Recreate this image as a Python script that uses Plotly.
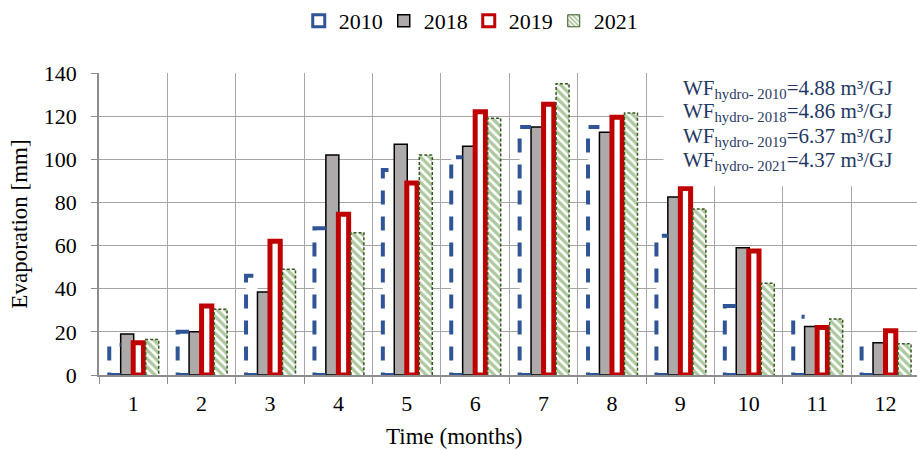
import plotly.graph_objects as go

months = list(range(1, 13))
month_labels = [str(m) for m in months]
years = ["2010", "2018", "2019", "2021"]
v2010 = [14, 20, 46, 68, 95, 101, 115, 115, 64.5, 32, 27, 13.5]
v2018 = [19, 20, 38.5, 102, 107, 106, 115, 112.5, 82.5, 59, 22.5, 15]
v2019 = [15, 32, 62, 74.5, 89, 122, 125.5, 119.5, 86.5, 57.5, 22, 20.5]
v2021 = [16.5, 30.5, 49, 66, 102, 119, 135, 121.5, 77, 42.5, 26, 14.5]
wf_values = ["4.88", "4.86", "6.37", "4.37"]

FONT = "Liberation Serif"
BLUE = "#2F5597"
RED = "#C00000"
GRAY = "#AEAAAA"
GREEN_LINE = "#385723"
GREEN_HATCH = "#5A923C"
NAVY = "#1F3864"

# bar slot geometry (fraction of category)
b0, b1 = -0.35, -0.183
g_off, g_w = -0.183, 0.19
r_off, r_w = 0.0, 0.15
gr0, gr1 = 0.183, 0.373

fig = go.Figure()

# 2010: white body + dashed outline
fig.add_trace(go.Bar(x=months, y=v2010, offset=b0, width=b1 - b0, name=years[0],
                     marker=dict(color="white", line=dict(width=0)),
                     showlegend=False, hoverinfo="skip"))
# 2018
fig.add_trace(go.Bar(x=months, y=v2018, offset=g_off, width=g_w, name=years[1],
                     marker=dict(color=GRAY, line=dict(color="black", width=1.5)),
                     showlegend=False))
# 2019
fig.add_trace(go.Bar(x=months, y=v2019, offset=r_off, width=r_w, name=years[2],
                     marker=dict(color="white", line=dict(color=RED, width=5)),
                     showlegend=False))
# 2021 hatched
fig.add_trace(go.Bar(x=months, y=v2021, offset=gr0, width=gr1 - gr0, name=years[3],
                     marker=dict(color="white", line=dict(width=0),
                                 pattern=dict(shape="\\", fgcolor=GREEN_HATCH,
                                              bgcolor="white", size=6, solidity=0.55)),
                     showlegend=False))

# dashed outlines built from the data
bx, by = [], []
for m, v in zip(months, v2010):
    bx += [m + b1, m + b0, m + b0, m + b1, None]
    by += [0, 0, v, v, None]
fig.add_trace(go.Scatter(x=bx, y=by, mode="lines",
                         line=dict(color=BLUE, width=4, dash="14px,12px"),
                         showlegend=False, hoverinfo="skip"))
gx, gy = [], []
for m, v in zip(months, v2021):
    gx += [m + gr0, m + gr0, m + gr1, m + gr1, None]
    gy += [0, v, v, 0, None]
fig.add_trace(go.Scatter(x=gx, y=gy, mode="lines",
                         line=dict(color=GREEN_LINE, width=1.5, dash="3px,2px"),
                         showlegend=False, hoverinfo="skip"))

# legend proxies (no visible marks)
fig.add_trace(go.Bar(x=[None], y=[None], name=years[0],
                     marker=dict(color="white", line=dict(color=BLUE, width=3))))
fig.add_trace(go.Bar(x=[None], y=[None], name=years[1],
                     marker=dict(color=GRAY, line=dict(color="black", width=1.5))))
fig.add_trace(go.Bar(x=[None], y=[None], name=years[2],
                     marker=dict(color="white", line=dict(color=RED, width=3))))
fig.add_trace(go.Bar(x=[None], y=[None], name=years[3],
                     marker=dict(color="white", line=dict(color=GREEN_LINE, width=1),
                                 pattern=dict(shape="\\", fgcolor="#548235",
                                              bgcolor="white", size=4, solidity=0.5))))

boundaries = [m - 0.5 for m in months] + [months[-1] + 0.5]

fig.update_layout(
    width=917, height=450,
    margin=dict(l=99, r=0, t=68, b=75),
    paper_bgcolor="white", plot_bgcolor="white",
    barmode="overlay",
    font=dict(family=FONT, size=22, color="black"),
    legend=dict(orientation="h", x=0.452, xanchor="center", y=1.173, yanchor="middle",
                yref="paper", xref="paper", font=dict(family=FONT, size=22, color="black"),
                entrywidth=40, entrywidthmode="pixels", itemclick=False),
    xaxis=dict(range=[0.5, 12.46], tickvals=months, ticktext=month_labels,
               tickfont=dict(family=FONT, size=22, color="black"),
               showgrid=False, ticks="", showline=True, linecolor="#8C8C8C",
               linewidth=1.5, zeroline=False, ticklabelstandoff=8, automargin=False,
               minor=dict(tickvals=boundaries, showgrid=True, gridcolor="#A6A6A6",
                          gridwidth=1, ticks="outside", ticklen=7, tickcolor="#8C8C8C")),
    yaxis=dict(range=[0, 140], dtick=20, showgrid=True, gridcolor="#A6A6A6",
               tickfont=dict(family=FONT, size=22, color="black"),
               gridwidth=1, showline=True, linecolor="#8C8C8C", linewidth=1.5,
               ticks="outside", ticklen=6, tickcolor="#8C8C8C", zeroline=False,
               ticklabelstandoff=10, automargin=False,
               title=dict(text="Evaporation [mm]", standoff=10,
                          font=dict(family=FONT, size=23, color="black"))),
)

# x-axis title (placed as in the reference, left of the domain centre)
fig.add_annotation(xref="paper", yref="paper", x=0.434, y=-0.202, xanchor="center",
                   yanchor="middle", showarrow=False, text="Time (months)",
                   font=dict(family=FONT, size=23, color="black"))

fig.add_shape(type="rect", xref="paper", yref="paper", x0=0.69, x1=1.0,
              y0=0.625, y1=1.02, fillcolor="white", line=dict(width=0), layer="above")

line_y = [0.948, 0.870, 0.788, 0.710]
for yr, wf, yy in zip(years, wf_values, line_y):
    fig.add_annotation(xref="paper", yref="paper", x=0.711, y=yy, xanchor="left",
                       yanchor="middle", showarrow=False,
                       text=f"WF<sub>hydro- {yr}</sub>={wf} m³/GJ",
                       font=dict(family=FONT, size=21, color=NAVY))

fig.write_html("out.html", config={"displayModeBar": False},
               post_script="document.body.style.margin='0px';")
